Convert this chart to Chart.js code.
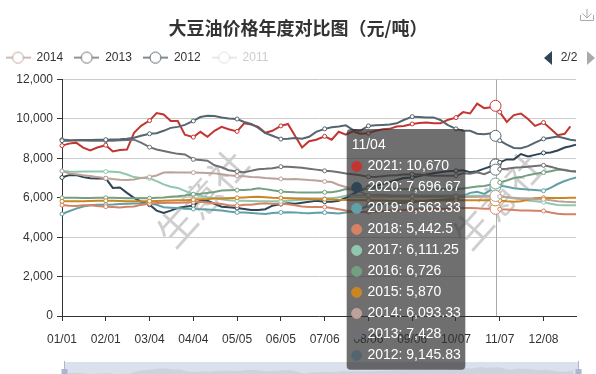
<!DOCTYPE html>
<html>
<head>
<meta charset="utf-8">
<title>大豆油价格年度对比图</title>
<script src="https://cdn.jsdelivr.net/npm/chart.js@4/dist/chart.umd.min.js"></script>
<style>
    html, body { margin: 0; padding: 0; background: #fff; }
    #wrap { width: 596px; height: 374px; }
</style>
</head>
<body>
<div id="wrap"><canvas id="chart" width="596" height="374"></canvas></div>
<script>
// x axis has one category per day of the year, values are read every few days
const monthLengths = [31, 28, 31, 30, 31, 30, 31, 31, 30, 31, 30, 31];
const tickLabels = ['01/01', '02/01', '03/04', '04/04', '05/05', '06/05', '07/06', '08/06', '09/06', '10/07', '11/07', '12/08'];
const yTicks = [0, 2000, 4000, 6000, 8000, 10000, 12000];
const hoverDate = '11/04';

const sampleDates = [
    '01/01', '01/06', '01/11', '01/16', '01/21', '01/26',
    '02/01', '02/06', '02/11', '02/16', '02/21', '02/26',
    '03/04', '03/09', '03/14', '03/19', '03/24', '03/29',
    '04/04', '04/09', '04/14', '04/19', '04/24', '04/29',
    '05/05', '05/10', '05/15', '05/20', '05/25', '05/30',
    '06/05', '06/10', '06/15', '06/20', '06/25', '06/30',
    '07/06', '07/11', '07/16', '07/21', '07/26', '07/31',
    '08/06', '08/11', '08/16', '08/21', '08/26', '08/31',
    '09/06', '09/11', '09/16', '09/21', '09/26', '10/01',
    '10/07', '10/12', '10/17', '10/22', '10/27', '11/01', '11/04',
    '11/07', '11/12', '11/17', '11/22', '11/27', '12/02',
    '12/08', '12/13', '12/18', '12/23', '12/27', '12/31'
];

const values2021 = [
    8650, 8750, 8800, 8550, 8400, 8550,
    8670, 8350, 8430, 8450, 9300, 9650,
    9920, 10300, 10230, 9900, 9900, 9200,
    9080, 9350, 9100, 9400, 9600, 9480,
    9370, 9780, 9720, 9600, 9300, 9400,
    9650, 9750, 9150, 8550, 8870, 8950,
    9120, 8950, 9350, 9200, 9370, 9250,
    9280, 9400, 9480, 9500, 9620, 9650,
    9750, 9800, 9820, 9780, 9780, 9950,
    10070, 10350, 10280, 10780, 10550, 10600, 10670,
    10350, 9850, 10200, 10280, 10000, 9650,
    9820, 9500, 9180, 9250, 9620, null
];
const values2020 = [
    7030, 7150, 7160, 7050, 6990, 6980,
    6990, 6500, 6520, 6250, 6000, 5800,
    5650, 5350, 5230, 5350, 5480, 5550,
    5600, 5880, 5850, 5700, 5550, 5520,
    5480, 5430, 5380, 5380, 5420, 5600,
    5680, 5720, 5700, 5750, 5800, 5850,
    5800, 5800, 5850, 6000, 6200, 6350,
    6530, 6600, 6700, 6800, 6900, 7000,
    7030, 7100, 7180, 7250, 7300, 7350,
    7370, 7400, 7300, 7350, 7480, 7600, 7696.67,
    7800, 7950, 7950, 8220, 8100, 8180,
    8280, 8300, 8400, 8550, 8620, 8700
];
const values2019 = [
    5180, 5320, 5450, 5560, 5620, 5650,
    5650, 5660, 5680, 5700, 5710, 5710,
    5710, 5650, 5520, 5500, 5480, 5450,
    5430, 5420, 5400, 5380, 5350, 5300,
    5260, 5250, 5230, 5200, 5180, 5230,
    5260, 5270, 5260, 5230, 5220, 5240,
    5250, 5230, 5200, 5250, 5300, 5400,
    5620, 5650, 5680, 5700, 5720, 5750,
    5780, 5800, 5850, 5880, 5900, 5930,
    5950, 6100, 6250, 6300, 6200, 6400, 6563.33,
    6620, 6560, 6480, 6450, 6420, 6400,
    6360, 6500, 6700, 6850, 6950, 7030
];
const values2018 = [
    5630, 5600, 5580, 5620, 5620, 5580,
    5550, 5530, 5510, 5540, 5560, 5640,
    5710, 5730, 5740, 5750, 5750, 5760,
    5780, 5800, 5760, 5720, 5680, 5620,
    5600, 5650, 5650, 5700, 5720, 5700,
    5700, 5670, 5620, 5560, 5530, 5530,
    5530, 5480, 5420, 5350, 5300, 5280,
    5280, 5300, 5320, 5350, 5360, 5380,
    5400, 5400, 5420, 5430, 5440, 5450,
    5460, 5480, 5480, 5470, 5440, 5450, 5442.5,
    5420, 5400, 5380, 5360, 5350, 5340,
    5330, 5250, 5190, 5170, 5170, 5170
];
const values2017 = [
    7360, 7330, 7320, 7330, 7330, 7340,
    7330, 7320, 7300, 7180, 7050, 7000,
    6990, 6850, 6680, 6560, 6500, 6350,
    6180, 6100, 6030, 5980, 5930, 5880,
    5850, 5850, 5840, 5830, 5830, 5820,
    5820, 5850, 5880, 5900, 5920, 5930,
    5950, 5980, 6030, 6100, 6130, 6120,
    6120, 6150, 6150, 6130, 6120, 6120,
    6120, 6120, 6120, 6120, 6120, 6120,
    6120, 6120, 6110, 6110, 6110, 6110, 6111.25,
    6080, 6030, 5980, 5920, 5860, 5820,
    5780, 5700, 5640, 5620, 5620, 5620
];
const values2016 = [
    6000, 6000, 6000, 5990, 5990, 6000,
    6000, 6000, 5990, 5980, 5980, 5980,
    5980, 6000, 6020, 6050, 6080, 6120,
    6180, 6200, 6250, 6300, 6370, 6380,
    6390, 6390, 6420, 6490, 6440, 6380,
    6320, 6300, 6280, 6270, 6270, 6270,
    6280, 6280, 6350, 6450, 6420, 6440,
    6500, 6500, 6480, 6470, 6460, 6450,
    6450, 6450, 6450, 6450, 6450, 6450,
    6450, 6470, 6520, 6570, 6600, 6680, 6726,
    6780, 6880, 7000, 7050, 7150, 7220,
    7280, 7350, 7420, 7430, 7350, 7330
];
const values2015 = [
    5820, 5820, 5830, 5830, 5840, 5850,
    5850, 5850, 5840, 5830, 5830, 5830,
    5830, 5840, 5850, 5860, 5870, 5880,
    5900, 5930, 5940, 5960, 5970, 5980,
    6000, 6020, 6040, 6050, 6030, 6000,
    5990, 5980, 5960, 5950, 5940, 5930,
    5930, 5920, 5900, 5890, 5880, 5870,
    5870, 5860, 5860, 5850, 5850, 5850,
    5850, 5850, 5850, 5860, 5860, 5860,
    5870, 5870, 5880, 5870, 5870, 5870, 5870,
    5860, 5820, 5800, 5820, 5900, 5980,
    6000, 5990, 5990, 5990, 6000, 6000
];
const values2014 = [
    7360, 7250, 7200, 7150, 7110, 7050,
    6990, 6950, 6920, 6900, 6930, 7000,
    7060, 7130, 7280, 7300, 7290, 7280,
    7280, 7270, 7260, 7240, 7200, 7150,
    7110, 7090, 7060, 7040, 7000, 6980,
    6960, 6940, 6950, 6930, 6900, 6880,
    6830, 6800, 6650, 6550, 6420, 6300,
    6130, 6100, 6100, 6090, 6090, 6080,
    6070, 6070, 6060, 6060, 6060, 6060,
    6050, 6040, 6040, 6050, 6060, 6080, 6093.33,
    6060, 6030, 6000, 5970, 5950, 5930,
    5920, 5880, 5830, 5800, 5790, 5780
];
const values2013 = [
    8950, 8930, 8920, 8910, 8900, 8900,
    8900, 8900, 8920, 8940, 8950, 8800,
    8570, 8450, 8380, 8300, 8230, 8200,
    7950, 7920, 7880, 7650, 7550, 7400,
    7330, 7300, 7370, 7450, 7470, 7500,
    7580, 7570, 7550, 7530, 7480, 7430,
    7370, 7350, 7300, 7230, 7200, 7150,
    7070, 7060, 7100, 7130, 7150, 7180,
    7200, 7180, 7150, 7120, 7120, 7120,
    7120, 7250, 7220, 7300, 7200, 7350, 7428,
    7450, 7480, 7530, 7550, 7580, 7620,
    7650, 7580, 7480, 7400, 7360, 7330
];
const values2012 = [
    8900, 8900, 8920, 8930, 8940, 8950,
    8950, 8960, 8970, 9000, 9050, 9150,
    9250, 9280, 9400, 9550, 9600, 9700,
    9900, 10100, 10170, 10150, 10080, 10020,
    10000, 9850, 9750, 9550, 9280, 9150,
    8980, 9000, 9030, 9000, 9100, 9350,
    9500, 9580, 9620, 9680, 9450, 9400,
    9650, 9680, 9700, 9720, 9780, 9950,
    10120, 10100, 10080, 10080, 9950, 9700,
    9500, 9400, 9400, 9250, 9230, 9270, 9145.83,
    8900, 8700, 8530, 8520, 8620, 8800,
    8990, 9050, 9110, 9020, 8950, 8910
];
const values2011 = [];

const years = ['2021', '2020', '2019', '2018', '2017', '2016', '2015', '2014', '2013', '2012', '2011'];
const colors = ['#c23531', '#2f4554', '#61a0a8', '#d48265', '#91c7ae', '#749f83', '#ca8622', '#bda29a', '#6e7074', '#546570', '#c4ccd3'];
const allValues = [values2021, values2020, values2019, values2018, values2017, values2016, values2015, values2014, values2013, values2012, values2011];
const legendYears = ['2014', '2013', '2012', '2011'];
const disabledYear = '2011';

const uiFont = '"Liberation Sans", sans-serif';
const cjkFont = '"Noto Sans CJK SC", sans-serif';

// every day of the year as an axis label
const dayLabels = [];
monthLengths.forEach(function(len, m) {
    for (let d = 1; d <= len; d++) {
        dayLabels.push(String(m + 1).padStart(2, '0') + '/' + String(d).padStart(2, '0'));
    }
});

function formatNumber(v) {
    return v.toLocaleString('en-US', { maximumFractionDigits: 2 });
}

// legend symbol: a short line with an open circle on it
function legendIcon(color, faded) {
    const c = document.createElement('canvas');
    c.width = 25;
    c.height = 14;
    const g = c.getContext('2d');
    g.globalAlpha = faded ? 0.45 : 0.75;
    g.strokeStyle = color;
    g.lineWidth = 2;
    g.beginPath();
    g.moveTo(0, 7);
    g.lineTo(25, 7);
    g.stroke();
    g.globalAlpha = 1;
    g.fillStyle = '#fff';
    g.lineWidth = 1;
    g.beginPath();
    g.arc(12.5, 7, 5.5, 0, Math.PI * 2);
    g.fill();
    g.globalAlpha = faded ? 0.6 : 1;
    g.stroke();
    return c;
}

function pointSize(ctx) {
    const d = sampleDates[ctx.dataIndex];
    if (d === hoverDate) return 5.5;
    return tickLabels.includes(d) ? 2 : 0;
}

const datasets = years.map(function(year, i) {
    return {
        label: year,
        data: sampleDates.map(function(d, k) {
            return { x: d, y: allValues[i].length ? allValues[i][k] : null };
        }),
        hidden: year === disabledYear,
        borderColor: colors[i],
        backgroundColor: colors[i],
        borderWidth: 2,
        tension: 0,
        order: -i,
        pointBackgroundColor: '#fff',
        pointBorderColor: colors[i],
        pointBorderWidth: 1,
        pointRadius: pointSize
    };
});

Chart.Tooltip.positioners.fixedBox = function() {
    return { x: 406, y: 129 };
};

const decorPlugin = {
    id: 'decor',
    afterLayout: function(chart) {
        // title is centred on the whole canvas, legend starts near its left edge
        chart.titleBlock.left = 0;
        chart.titleBlock.right = 596;
        chart.titleBlock.top -= 6;
        chart.titleBlock.bottom -= 6;
        chart.legend.left = -5.5;
        chart.legend.top -= 6;
        chart.legend.bottom -= 6;
    },
    beforeDatasetsDraw: function(chart) {
        const ctx = chart.ctx;
        const area = chart.chartArea;
        const xs = chart.scales.x;

        // watermark
        ctx.save();
        ctx.font = '38px ' + cjkFont;
        ctx.fillStyle = '#cfcfcf';
        ctx.textAlign = 'center';
        ctx.textBaseline = 'middle';
        [[202, 198], [498, 200]].forEach(function(p) {
            ctx.save();
            ctx.translate(p[0], p[1]);
            ctx.rotate(-48 * Math.PI / 180);
            ctx.fillText('生意社', 0, 0);
            ctx.restore();
        });
        ctx.restore();

        // axis pointer
        const hx = Math.round(xs.getPixelForValue(dayLabels.indexOf(hoverDate))) + 0.5;
        ctx.save();
        ctx.strokeStyle = '#aaa';
        ctx.lineWidth = 1;
        ctx.beginPath();
        ctx.moveTo(hx, area.top);
        ctx.lineTo(hx, area.bottom);
        ctx.stroke();
        ctx.restore();

        // data zoom band, its shadow follows the first series
        ctx.save();
        ctx.fillStyle = '#dbe1ec';
        ctx.fillRect(64, 362, 515, 12);
        ctx.fillStyle = '#cdd3de';
        ctx.beginPath();
        ctx.moveTo(64, 374);
        values2021.forEach(function(v, k) {
            if (v === null) return;
            const px = 64 + (xs.getPixelForValue(dayLabels.indexOf(sampleDates[k])) - area.left) * 515 / area.width;
            ctx.lineTo(px, 367 + (10780 - v) * 0.0029);
        });
        ctx.lineTo(573, 374);
        ctx.closePath();
        ctx.fill();
        ctx.fillStyle = '#a9b7cf';
        ctx.fillRect(64, 361, 1, 13);
        ctx.fillRect(578, 361, 1, 13);
        ctx.fillRect(61.5, 369, 6, 5);
        ctx.fillRect(575.5, 369, 6, 5);
        ctx.restore();

        // legend pager
        ctx.save();
        ctx.fillStyle = '#2f4554';
        ctx.beginPath();
        ctx.moveTo(552, 51);
        ctx.lineTo(552, 65);
        ctx.lineTo(544, 58);
        ctx.closePath();
        ctx.fill();
        ctx.fillStyle = '#aaa';
        ctx.beginPath();
        ctx.moveTo(587, 51);
        ctx.lineTo(587, 65);
        ctx.lineTo(595, 58);
        ctx.closePath();
        ctx.fill();
        ctx.fillStyle = '#333';
        ctx.font = '12px ' + uiFont;
        ctx.textAlign = 'center';
        ctx.textBaseline = 'middle';
        ctx.fillText('2/2', 569, 58);
        ctx.restore();

        // save-as-image icon
        ctx.save();
        ctx.strokeStyle = '#aaa';
        ctx.lineWidth = 1;
        ctx.beginPath();
        ctx.moveTo(580.5, 15);
        ctx.lineTo(580.5, 20.5);
        ctx.lineTo(593.5, 20.5);
        ctx.lineTo(593.5, 15);
        ctx.moveTo(587, 9);
        ctx.lineTo(587, 18);
        ctx.moveTo(582.5, 13.5);
        ctx.lineTo(587, 18);
        ctx.lineTo(591.5, 13.5);
        ctx.stroke();
        ctx.restore();
    }
};

const chart = new Chart(document.getElementById('chart').getContext('2d'), {
    type: 'line',
    data: { labels: dayLabels, datasets: datasets },
    plugins: [decorPlugin],
    options: {
        responsive: false,
        animation: false,
        events: [],
        layout: { padding: { top: 6, right: 20, left: 0, bottom: 0 } },
        scales: {
            x: {
                type: 'category',
                offset: false,
                afterFit: function(scale) { scale.height = 58; },
                afterBuildTicks: function(scale) {
                    scale.ticks = scale.ticks.filter(function(t) {
                        return tickLabels.includes(dayLabels[t.value]);
                    });
                },
                border: { color: '#333', width: 1 },
                grid: { display: true, drawOnChartArea: false, tickColor: '#333', tickLength: 5 },
                ticks: {
                    autoSkip: false,
                    maxRotation: 0,
                    minRotation: 0,
                    padding: 11,
                    color: '#333',
                    font: { family: uiFont, size: 12 }
                }
            },
            y: {
                min: 0,
                max: 12000,
                afterFit: function(scale) { scale.width = 62; },
                afterBuildTicks: function(scale) {
                    scale.ticks = yTicks.map(function(v) { return { value: v }; });
                },
                border: { color: '#333', width: 1 },
                grid: { color: '#ccc', tickColor: '#333', tickLength: 5 },
                ticks: {
                    padding: 4,
                    color: '#333',
                    font: { family: uiFont, size: 12 },
                    callback: function(v) { return formatNumber(v); }
                }
            }
        },
        plugins: {
            title: {
                display: true,
                text: '大豆油价格年度对比图（元/吨）',
                color: '#333',
                font: { family: cjkFont, size: 18, weight: 'bold' },
                padding: { top: 17, bottom: 2 }
            },
            legend: {
                display: true,
                position: 'top',
                align: 'start',
                labels: {
                    usePointStyle: true,
                    pointStyleWidth: 25,
                    padding: 11,
                    font: { family: uiFont, size: 12 },
                    generateLabels: function(c) {
                        return legendYears.map(function(year) {
                            const i = years.indexOf(year);
                            const off = year === disabledYear;
                            return {
                                text: year,
                                datasetIndex: i,
                                hidden: false,
                                fontColor: off ? '#ccc' : '#333',
                                pointStyle: legendIcon(colors[i], off),
                                lineWidth: 0,
                                strokeStyle: colors[i],
                                fillStyle: colors[i]
                            };
                        });
                    }
                }
            },
            tooltip: {
                enabled: true,
                animation: false,
                position: 'fixedBox',
                xAlign: 'center',
                yAlign: 'top',
                caretSize: 0,
                caretPadding: 0,
                cornerRadius: 4,
                backgroundColor: 'rgba(50,50,50,0.7)',
                titleColor: '#fff',
                bodyColor: '#fff',
                titleFont: { family: uiFont, size: 14, weight: 'normal' },
                bodyFont: { family: uiFont, size: 14 },
                titleMarginBottom: 4.2,
                bodySpacing: 4.2,
                padding: { top: 8, bottom: 6, left: 5, right: 4.5 },
                usePointStyle: true,
                boxWidth: 10,
                boxHeight: 10,
                boxPadding: 3.7,
                multiKeyBackground: 'transparent',
                itemSort: function(a, b) { return a.datasetIndex - b.datasetIndex; },
                callbacks: {
                    label: function(item) {
                        return item.dataset.label + ': ' + formatNumber(item.parsed.y);
                    },
                    labelPointStyle: function() {
                        return { pointStyle: 'circle', rotation: 0 };
                    },
                    labelColor: function(item) {
                        return { borderColor: item.dataset.borderColor, backgroundColor: item.dataset.borderColor };
                    }
                }
            }
        }
    }
});

// show the tooltip for the hovered date
const hoverIndex = sampleDates.indexOf(hoverDate);
const activeItems = [];
years.forEach(function(year, i) {
    if (year !== disabledYear) activeItems.push({ datasetIndex: i, index: hoverIndex });
});
chart.tooltip.setActiveElements(activeItems, { x: 0, y: 0 });
chart.update();
</script>
</body>
</html>
